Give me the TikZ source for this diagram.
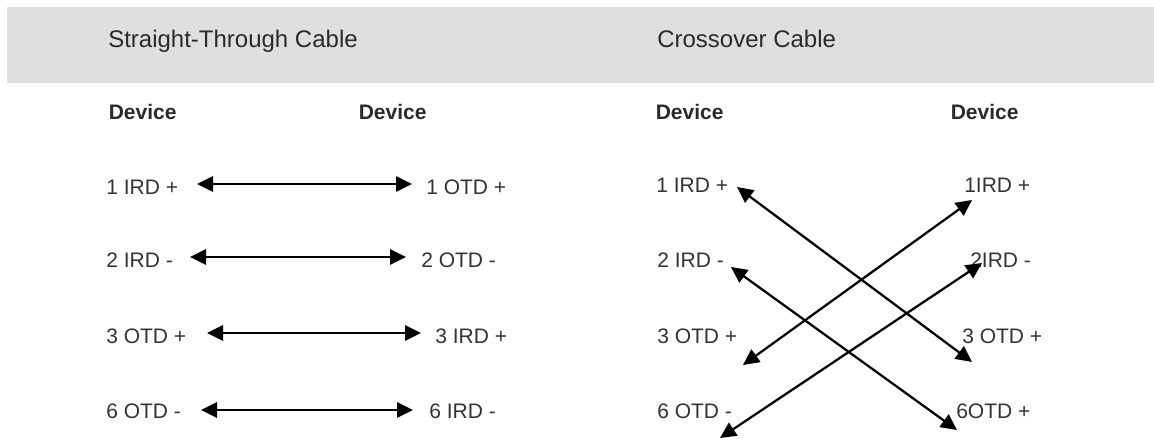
\documentclass[tikz,border=0pt]{standalone}
\usepackage{fontspec}
\setmainfont{Liberation Sans}
\usetikzlibrary{arrows.meta}
\definecolor{bandgray}{HTML}{DFDFDF}
\definecolor{labelgray}{HTML}{333333}
\definecolor{headgray}{HTML}{2A2A2A}
\tikzset{
  headtext/.style={anchor=base west, inner sep=0pt, text=headgray,
    font=\fontsize{18}{21}\selectfont},
  devtext/.style={anchor=base west, inner sep=0pt, text=headgray,
    font=\bfseries\fontsize{15.75}{18}\selectfont},
  pintext/.style={anchor=base west, inner sep=0pt, text=labelgray,
    font=\fontsize{15.75}{18}\selectfont},
  wire/.style={line width=1.7pt, black,
    {Triangle[length=12pt,width=11.5pt]}-{Triangle[length=12pt,width=11.5pt]}}
}
\begin{document}
\begin{tikzpicture}[x=0.75pt,y=-0.75pt]
  \useasboundingbox (0,0) rectangle (1154,439);
  % title band
  \fill[bandgray] (7,7) rectangle (1154,83);
  \node[headtext] (tStraight) at (108,47) {Straight-Through Cable};
  \node[headtext] (tCross) at (657,47) {Crossover Cable};

  % column headings
  \node[devtext] (dA) at (108.5,119) {Device};
  \node[devtext] (dB) at (358.5,119) {Device};
  \node[devtext] (dC) at (655.5,119) {Device};
  \node[devtext] (dD) at (950.5,119) {Device};

  % straight-through pin labels
  \node[pintext] (s1l) at (106,194) {1 IRD +};
  \node[pintext] (s2l) at (106,267) {2 IRD -};
  \node[pintext] (s3l) at (106,343) {3 OTD +};
  \node[pintext] (s4l) at (106,418) {6 OTD -};
  \node[pintext] (s1r) at (426,194) {1 OTD +};
  \node[pintext] (s2r) at (421,267) {2 OTD -};
  \node[pintext] (s3r) at (435,343) {3 IRD +};
  \node[pintext] (s4r) at (429,418) {6 IRD -};

  % straight-through wire ends
  \coordinate (s1a) at (197,184);
  \coordinate (s1b) at (412,184);
  \coordinate (s2a) at (190,257);
  \coordinate (s2b) at (406,257);
  \coordinate (s3a) at (207,333);
  \coordinate (s3b) at (421,333);
  \coordinate (s4a) at (201,410);
  \coordinate (s4b) at (413,410);
  \draw[wire] (s1a) -- (s1b);
  \draw[wire] (s2a) -- (s2b);
  \draw[wire] (s3a) -- (s3b);
  \draw[wire] (s4a) -- (s4b);

  % crossover pin labels
  \node[pintext] (c1l) at (656,192) {1 IRD +};
  \node[pintext] (c2l) at (657,267) {2 IRD -};
  \node[pintext] (c3l) at (657,343) {3 OTD +};
  \node[pintext] (c4l) at (657,418) {6 OTD -};
  \node[pintext] (c1r) at (964,192) {1IRD +};
  \node[pintext] (c2r) at (970,267) {2IRD -};
  \node[pintext] (c3r) at (962,343) {3 OTD +};
  \node[pintext] (c4r) at (956,418) {6OTD +};

  % crossover wire ends
  \coordinate (x1a) at (737,187);
  \coordinate (x1b) at (972,362);
  \coordinate (x2a) at (731,267);
  \coordinate (x2b) at (957,430);
  \coordinate (x3a) at (972,200);
  \coordinate (x3b) at (743,365);
  \coordinate (x4a) at (982,263);
  \coordinate (x4b) at (720,438);
  \draw[wire] (x1a) -- (x1b);
  \draw[wire] (x2a) -- (x2b);
  \draw[wire] (x3a) -- (x3b);
  \draw[wire] (x4a) -- (x4b);
\end{tikzpicture}
\end{document}
